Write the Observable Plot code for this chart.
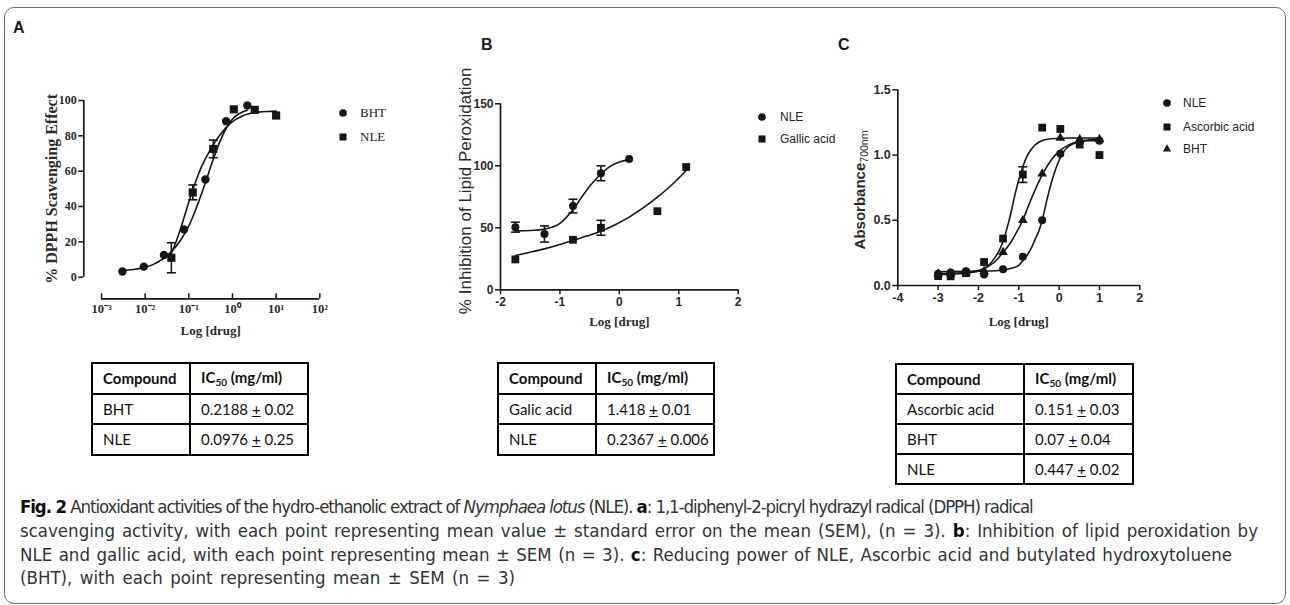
<!DOCTYPE html>
<html><head><meta charset="utf-8">
<script src="https://cdn.jsdelivr.net/npm/d3@7"></script>
<script src="https://cdn.jsdelivr.net/npm/@observablehq/plot@0.6"></script>
<style>
html,body{margin:0;padding:0;background:#fff;}
#page{position:relative;width:1290px;height:605px;overflow:hidden;font-family:"Liberation Sans",Arial,sans-serif;color:#1a1a1a;}
#frame{position:absolute;left:4px;top:7px;width:1282px;height:597px;border:1.5px solid #6b6b6b;border-radius:10px;box-sizing:border-box;}
.panel{position:absolute;top:0;}
.plabel{position:absolute;font-weight:bold;font-size:16px;font-family:"Liberation Sans",Arial,sans-serif;line-height:1;}
.leg{position:absolute;white-space:nowrap;line-height:1;}
table.ic{position:absolute;border-collapse:collapse;table-layout:fixed;font-family:Lato,"Open Sans",sans-serif;font-size:15px;color:#111;}
table.ic td{border:2px solid #000;padding:0 0 0 10px;height:28px;white-space:nowrap;}
table.ic tr:first-child td{font-weight:bold;}
table.ic sub{font-size:10px;vertical-align:-3px;}
.cap{position:absolute;left:20px;white-space:nowrap;font-family:"Liberation Sans Narrow","DejaVu Sans Condensed","Liberation Sans",sans-serif;font-stretch:condensed;font-size:18.5px;color:#333;line-height:1;}
.cap b{color:#111;}
.ytitle{position:absolute;white-space:nowrap;transform:translate(-50%,-50%) rotate(-90deg);line-height:1;}
</style></head>
<body><div id="page"><div id="frame"></div></div>
<script>
// ---------- Panel A: DPPH scavenging (x = log10 concentration) ----------
const aBhtLog = [-2.52, -2.03, -1.57, -1.11, -0.62, -0.145, 0.34];
const aBhtVal = [3.2, 6.0, 12.6, 27, 55.3, 88.3, 97.2];
const aNleLog = [-1.40, -0.91, -0.44, 0.03, 0.51, 1.0];
const aNleVal = [11, 48, 72.6, 95, 94.7, 91.5];
const aNleErr = [8.5, 4.2, 5, 0, 0, 0];
const aBhtFitLog = [-2.53, -2.2, -2.0, -1.8, -1.6, -1.4, -1.2, -1.0, -0.8, -0.6, -0.45, -0.3, -0.15, 0, 0.15, 0.34];
const aBhtFitVal = [3.6, 4.6, 5.6, 7.4, 10.3, 14.5, 20.5, 29, 41, 55, 66, 76, 84, 89.5, 92.5, 94.5];
const aNleFitLog = [-1.40, -1.3, -1.2, -1.1, -1.0, -0.9, -0.8, -0.7, -0.6, -0.45, -0.3, -0.15, 0, 0.2, 0.4, 0.6, 0.8, 1.0];
const aNleFitVal = [13.5, 19.5, 26.5, 34.5, 42.5, 50, 57, 63, 68, 74.5, 80, 84.5, 88, 91, 92.6, 93.4, 93.8, 94];
const aXTicks = [0.001, 0.01, 0.1, 1, 10, 100];
const aXTickLabels = ["10⁻³", "10⁻²", "10⁻¹", "10⁰", "10¹", "10²"];
const aYTicks = [0, 20, 40, 60, 80, 100];
const aSeries = ["BHT", "NLE"];

// ---------- Panel B: lipid peroxidation ----------
const bNleLog = [-1.75, -1.26, -0.78, -0.31, 0.165];
const bNleVal = [50.5, 45, 67.5, 94, 105.4];
const bNleErr = [4, 6.5, 5.5, 6, 0];
const bGalLog = [-1.75, -0.78, -0.31, 0.64, 1.125];
const bGalVal = [24.5, 40.3, 50, 63.4, 99];
const bGalErr = [0, 0, 6, 0, 0];
const bNleFitLog = [-1.75, -1.5, -1.25, -1.1, -1.0, -0.9, -0.8, -0.7, -0.6, -0.5, -0.4, -0.3, -0.2, -0.1, 0, 0.165];
const bNleFitVal = [47.5, 47.8, 49, 51, 53.5, 58, 63.5, 70, 77, 83.5, 89, 94, 98, 101, 103, 105];
const bGalFitLog = [-1.75, -1.5, -1.26, -1.0, -0.78, -0.55, -0.31, -0.07, 0.165, 0.4, 0.64, 0.88, 1.125];
const bGalFitVal = [27.7, 30.3, 33, 36.5, 39.8, 43.3, 47.3, 52.5, 58.6, 66, 74.7, 84.5, 96.2];
const bXTicks = [-2, -1, 0, 1, 2];
const bYTicks = [0, 50, 100, 150];
const bSeries = ["NLE", "Gallic acid"];

// ---------- Panel C: reducing power ----------
const cLog = [-3.0, -2.69, -2.31, -1.86, -1.39, -0.90, -0.42, 0.03, 0.51, 1.0];
const cNle = [0.09, 0.10, 0.11, 0.085, 0.125, 0.22, 0.50, 1.01, 1.10, 1.11];
const cAsc = [0.072, 0.07, 0.095, 0.18, 0.36, 0.85, 1.21, 1.20, 1.08, 1.00];
const cAscErr = [0, 0, 0, 0, 0, 0.06, 0, 0, 0, 0];
const cBht = [0.09, 0.09, 0.10, 0.11, 0.255, 0.50, 0.856, 1.13, 1.12, 1.12];
const cNleFitLog = [-3, -2.0, -1.5, -1.2, -1.0, -0.9, -0.8, -0.7, -0.6, -0.5, -0.42, -0.3, -0.2, -0.1, 0, 0.1, 0.25, 0.5, 0.75, 1.0];
const cNleFitVal = [0.105, 0.11, 0.115, 0.13, 0.155, 0.19, 0.23, 0.28, 0.35, 0.42, 0.50, 0.66, 0.78, 0.88, 0.96, 1.02, 1.07, 1.10, 1.11, 1.11];
const cAscFitLog = [-3, -2.5, -2.0, -1.8, -1.6, -1.5, -1.4, -1.3, -1.2, -1.1, -1.0, -0.9, -0.8, -0.7, -0.5, -0.2, 0.3, 1.0];
const cAscFitVal = [0.085, 0.09, 0.11, 0.14, 0.21, 0.26, 0.33, 0.43, 0.55, 0.69, 0.81, 0.91, 0.99, 1.04, 1.10, 1.125, 1.13, 1.13];
const cBhtFitLog = [-3, -2.5, -2.0, -1.8, -1.6, -1.4, -1.2, -1.0, -0.9, -0.8, -0.6, -0.4, -0.2, 0, 0.25, 0.5, 1.0];
const cBhtFitVal = [0.09, 0.095, 0.115, 0.14, 0.18, 0.25, 0.33, 0.44, 0.50, 0.58, 0.73, 0.86, 0.96, 1.03, 1.08, 1.105, 1.12];
const cXTicks = [-4, -3, -2, -1, 0, 1, 2];
const cYTicks = [0, 0.5, 1.0, 1.5];
const cSeries = ["NLE", "Ascorbic acid", "BHT"];

// ---------- Tables ----------
const tableHeader = ["Compound", "IC50 (mg/ml)"];
const tableA = [["BHT", "0.2188", "0.02"], ["NLE", "0.0976", "0.25"]];
const tableB = [["Galic acid", "1.418", "0.01"], ["NLE", "0.2367", "0.006"]];
const tableC = [["Ascorbic acid", "0.151", "0.03"], ["BHT", "0.07", "0.04"], ["NLE", "0.447", "0.02"]];

const INK = "#161616";
const page = document.getElementById("page");
const pts = (logs, vals, errs, f = d => d) => logs.map((l, i) => ({x: f(l), y: vals[i], e: errs ? errs[i] : 0}));
const capSym = {draw(ctx) { ctx.moveTo(-4.5, 0); ctx.lineTo(4.5, 0); }};
function errMarks(data) {
  const d = data.filter(p => p.e > 0);
  return [
    Plot.ruleX(d, {x: "x", y1: p => p.y - p.e, y2: p => p.y + p.e, stroke: INK, strokeWidth: 1.6}),
    Plot.dot(d, {x: "x", y: p => p.y - p.e, symbol: capSym, stroke: INK, strokeWidth: 1.6, fill: "none"}),
    Plot.dot(d, {x: "x", y: p => p.y + p.e, symbol: capSym, stroke: INK, strokeWidth: 1.6, fill: "none"})
  ];
}
function place(svg, left) { const w = document.createElement("div"); w.className = "panel"; w.style.left = left + "px"; w.appendChild(svg); page.appendChild(w); }
const hyphen = d => String(d);

// Panel A
const p10 = l => Math.pow(10, l);
const aB = pts(aBhtLog, aBhtVal, null, p10), aN = pts(aNleLog, aNleVal, aNleErr, p10);
const serif = "'Liberation Serif','Times New Roman',serif";
const plotA = Plot.plot({
  width: 440, height: 350, marginLeft: 101, marginRight: 120.7, marginTop: 100, marginBottom: 73.3,
  x: {type: "log", domain: [0.001, 100]}, y: {domain: [0, 100]},
  style: {background: "transparent", color: INK, fontFamily: serif, overflow: "visible"},
  marks: [
    Plot.ruleY([0], {x1: 0.001, x2: 100, dy: 21.6, stroke: INK, strokeWidth: 1.7}),
    Plot.ruleX([0.001], {y1: 0, y2: 100, dx: -17.7, stroke: INK, strokeWidth: 1.7}),
    Plot.axisX(aXTicks, {anchor: "bottom", dy: 21.6, tickSize: -5, tickPadding: 10, strokeWidth: 1.5, tickFormat: d => aXTickLabels[aXTicks.indexOf(d)], fontSize: 12.5, fontWeight: "bold", fontFamily: serif, fill: "#2a2a2a", label: null}),
    Plot.axisY(aYTicks, {anchor: "left", dx: -17.7, tickSize: 5, tickPadding: 2, strokeWidth: 1.5, fontSize: 12, fontWeight: "bold", fontFamily: serif, fill: "#2a2a2a", label: null}),
    Plot.text(["% DPPH Scavenging Effect"], {text: d => d, frameAnchor: "left", textAnchor: "middle", dx: -50, rotate: -90, fontSize: 16, fontWeight: "bold", fontFamily: serif, fill: "#2a2a2a"}),
    Plot.text(["Log [drug]"], {text: d => d, frameAnchor: "bottom", textAnchor: "middle", dy: 58, fontSize: 13, fontWeight: "bold", fontFamily: serif, fill: "#2a2a2a"}),
    Plot.line(pts(aBhtFitLog, aBhtFitVal, null, p10), {x: "x", y: "y", curve: "monotone-x", stroke: INK, strokeWidth: 1.6}),
    Plot.line(pts(aNleFitLog, aNleFitVal, null, p10), {x: "x", y: "y", curve: "monotone-x", stroke: INK, strokeWidth: 1.6}),
    ...errMarks(aN),
    Plot.dot(aB, {x: "x", y: "y", symbol: "circle", r: 4.2, fill: INK}),
    Plot.dot(aN, {x: "x", y: "y", symbol: "square", r: 4.6, fill: INK})
  ]
});
place(plotA, 0);

// Panel B
const bN = pts(bNleLog, bNleVal, bNleErr), bG = pts(bGalLog, bGalVal, bGalErr);
const sans = "'Liberation Sans',Arial,sans-serif";
const plotB = Plot.plot({
  width: 340, height: 350, marginLeft: 60, marginRight: 42.3, marginTop: 103.3, marginBottom: 60.7,
  x: {domain: [-2, 2]}, y: {domain: [0, 150]},
  style: {background: "transparent", color: INK, fontFamily: sans, overflow: "visible"},
  marks: [
    Plot.ruleY([0], {x1: -2, x2: 2, stroke: INK, strokeWidth: 1.7}),
    Plot.ruleX([-2], {y1: 0, y2: 150, stroke: INK, strokeWidth: 1.7}),
    Plot.axisX(bXTicks, {anchor: "bottom", tickSize: 5, tickPadding: 3, strokeWidth: 1.5, tickFormat: hyphen, fontSize: 12, fontWeight: "bold", fill: "#2a2a2a", label: null}),
    Plot.axisY(bYTicks, {anchor: "left", tickSize: 5, tickPadding: 2, strokeWidth: 1.5, tickFormat: hyphen, fontSize: 12, fontWeight: "bold", fill: "#2a2a2a", label: null}),
    Plot.text(["% Inhibition of Lipid Peroxidation"], {text: d => d, frameAnchor: "left", textAnchor: "middle", dx: -35, dy: -6, rotate: -90, fontSize: 17, fontFamily: sans, fill: "#2a2a2a"}),
    Plot.text(["Log [drug]"], {text: d => d, frameAnchor: "bottom", textAnchor: "middle", dy: 36, fontSize: 13, fontWeight: "bold", fontFamily: serif, fill: "#2a2a2a"}),
    Plot.line(pts(bNleFitLog, bNleFitVal), {x: "x", y: "y", curve: "monotone-x", stroke: INK, strokeWidth: 1.6}),
    Plot.line(pts(bGalFitLog, bGalFitVal), {x: "x", y: "y", curve: "monotone-x", stroke: INK, strokeWidth: 1.6}),
    ...errMarks(bN), ...errMarks(bG),
    Plot.dot(bN, {x: "x", y: "y", symbol: "circle", r: 4, fill: INK}),
    Plot.dot(bG, {x: "x", y: "y", symbol: "square", r: 4.4, fill: INK})
  ]
});
place(plotB, 440);

// Panel C
const cN = pts(cLog, cNle), cA = pts(cLog, cAsc, cAscErr), cB = pts(cLog, cBht);
const plotC = Plot.plot({
  width: 380, height: 350, marginLeft: 107.3, marginRight: 30.7, marginTop: 89.3, marginBottom: 65,
  x: {domain: [-4, 2]}, y: {domain: [0, 1.5]},
  style: {background: "transparent", color: INK, fontFamily: sans, overflow: "visible"},
  marks: [
    Plot.ruleY([0], {x1: -4, x2: 2, stroke: INK, strokeWidth: 1.7}),
    Plot.ruleX([-4], {y1: 0, y2: 1.5, stroke: INK, strokeWidth: 1.7}),
    Plot.axisX(cXTicks, {anchor: "bottom", tickSize: 5, tickPadding: 3, strokeWidth: 1.5, tickFormat: hyphen, fontSize: 12.5, fontWeight: "bold", fill: "#2a2a2a", label: null}),
    Plot.axisY(cYTicks, {anchor: "left", tickSize: 5, tickPadding: 2, strokeWidth: 1.5, fontSize: 12.5, fontWeight: "bold", fill: "#2a2a2a", tickFormat: d => d.toFixed(1), label: null}),
    Plot.text(["Log [drug]"], {text: d => d, frameAnchor: "bottom", textAnchor: "middle", dy: 40, fontSize: 13, fontWeight: "bold", fontFamily: serif, fill: "#2a2a2a"}),
    Plot.line(pts(cAscFitLog, cAscFitVal), {x: "x", y: "y", curve: "monotone-x", stroke: INK, strokeWidth: 1.6}),
    Plot.line(pts(cBhtFitLog, cBhtFitVal), {x: "x", y: "y", curve: "monotone-x", stroke: INK, strokeWidth: 1.6}),
    Plot.line(pts(cNleFitLog, cNleFitVal), {x: "x", y: "y", curve: "monotone-x", stroke: INK, strokeWidth: 1.6}),
    ...errMarks(cA),
    Plot.dot(cN, {x: "x", y: "y", symbol: "circle", r: 4, fill: INK}),
    Plot.dot(cA, {x: "x", y: "y", symbol: "square", r: 4.4, fill: INK}),
    Plot.dot(cB, {x: "x", y: "y", symbol: "triangle", r: 3.6, fill: INK})
  ]
});
place(plotC, 790);

// C y-title with subscript (HTML, rotated)
const yc = document.createElement("div");
yc.className = "ytitle";
yc.style.cssText += "left:861px;top:190px;font-family:" + sans + ";font-weight:bold;font-size:15px;color:#2a2a2a;";
yc.innerHTML = "Absorbance<sub style='font-size:10.5px;font-weight:normal;vertical-align:-3px'>700nm</sub>";
page.appendChild(yc);

// Panel letters
[["A", 13, 20], ["B", 481, 37], ["C", 838, 37]].forEach(([t, x, y]) => {
  const d = document.createElement("div"); d.className = "plabel"; d.textContent = t;
  d.style.left = x + "px"; d.style.top = y + "px"; page.appendChild(d);
});

// Legends
const symPath = {circle: d3.symbol(d3.symbolCircle, 46)(), square: d3.symbol(d3.symbolSquare, 50)(), triangle: d3.symbol(d3.symbolTriangle, 30)()};
function legend(labels, symbols, mx, tx, ys, font) {
  labels.forEach((lab, i) => {
    const s = document.createElementNS("http://www.w3.org/2000/svg", "svg");
    s.setAttribute("width", 1); s.setAttribute("height", 1);
    s.style.cssText = `position:absolute;overflow:visible;left:${mx}px;top:${ys[i]}px;`;
    const p = document.createElementNS("http://www.w3.org/2000/svg", "path");
    p.setAttribute("d", symPath[symbols[i]]); p.setAttribute("fill", INK);
    s.appendChild(p); page.appendChild(s);
    const t = document.createElement("div"); t.className = "leg"; t.textContent = lab;
    t.style.cssText += `left:${tx}px;top:${ys[i]}px;transform:translateY(-50%);font:${font};color:#222;`;
    page.appendChild(t);
  });
}
legend(aSeries, ["circle", "square"], 342.7, 360, [113.3, 137.3], "13px " + serif);
legend(bSeries, ["circle", "square"], 761.7, 780, [116.7, 139], "12px " + sans);
legend(cSeries, ["circle", "square", "triangle"], 1166.7, 1183, [103.3, 126.7, 149.3], "12px " + sans);

// Tables
function table(rows, left, top, w1, w2, rowH) {
  const t = document.createElement("table"); t.className = "ic";
  t.style.left = left + "px"; t.style.top = top + "px"; t.style.width = (w1 + w2) + "px";
  const cg = document.createElement("colgroup");
  [w1, w2].forEach(w => { const c = document.createElement("col"); c.style.width = w + "px"; cg.appendChild(c); });
  t.appendChild(cg);
  const hr = t.insertRow(); hr.style.height = rowH + "px";
  hr.insertCell().textContent = tableHeader[0];
  hr.insertCell().innerHTML = tableHeader[1].replace("IC50", "IC<sub>50</sub>");
  rows.forEach(r => {
    const tr = t.insertRow(); tr.style.height = rowH + "px";
    tr.insertCell().textContent = r[0];
    tr.insertCell().innerHTML = `${r[1]} <u>+</u> ${r[2]}`;
  });
  page.appendChild(t);
}
table(tableA, 91, 362, 98, 118, 30.5);
table(tableB, 497, 362, 98, 118, 30.5);
table(tableC, 895, 363, 128, 109, 29.7);

// Caption
const capLines = [
  "<b>Fig. 2</b> Antioxidant activities of the hydro-ethanolic extract of <i>Nymphaea lotus</i> (NLE). <b>a</b>: 1,1-diphenyl-2-picryl hydrazyl radical (DPPH) radical",
  "scavenging activity, with each point representing mean value ± standard error on the mean (SEM), (n = 3). <b>b</b>: Inhibition of lipid peroxidation by",
  "NLE and gallic acid, with each point representing mean ± SEM (n = 3). <b>c</b>: Reducing power of NLE, Ascorbic acid and butylated hydroxytoluene",
  "(BHT), with each point representing mean ± SEM (n = 3)"
];
const capTops = [498, 522, 546, 569];
const capRight = [1021, 1258, 1232, 515];
capLines.forEach((h, i) => {
  const d = document.createElement("div"); d.className = "cap"; d.innerHTML = h; d.style.top = capTops[i] + "px";
  page.appendChild(d);
  const w = d.getBoundingClientRect().width;
  const txt = d.textContent;
  const diff = capRight[i] - 20 - w;
  if (diff < 0) {
    d.style.letterSpacing = Math.max(-1.1, diff / txt.length) + "px";
  } else {
    const spaces = (txt.match(/ /g) || []).length;
    d.style.wordSpacing = Math.min(2.5, diff / spaces) + "px";
  }
});
</script></body></html>
